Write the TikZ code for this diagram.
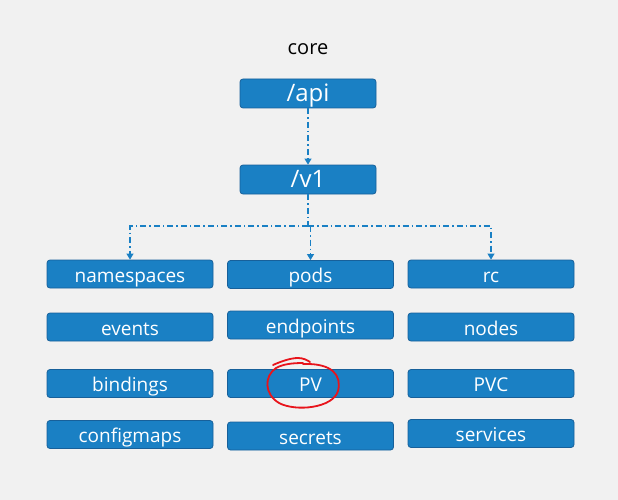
\documentclass[tikz,border=0pt]{standalone}
\usepackage{fontspec}
\setmainfont{Open Sans}
\definecolor{boxfill}{HTML}{1A80C4}
\definecolor{boxborder}{HTML}{17609A}
\definecolor{bgcol}{HTML}{F1F1F1}
\definecolor{linkcol}{HTML}{1A80C4}
\definecolor{penred}{HTML}{E8141B}
\usetikzlibrary{positioning, calc, arrows.meta}

\tikzset{
  res/.style={draw=boxborder, fill=boxfill, line width=0.8pt, rounded corners=3pt,
    minimum width=166pt, minimum height=28pt, inner sep=0pt, text=white,
    font=\fontsize{19}{22}\selectfont, text height=16pt, text depth=0pt},
  root/.style={res, minimum width=136pt, minimum height=29pt,
    font=\fontsize{24}{26}\selectfont, text height=16pt},
  link/.style={linkcol, line width=1.1pt, dash pattern=on 6pt off 3pt on 1.5pt off 3pt,
    -{Triangle[width=7pt,length=6pt]}}
}

\begin{document}
\begin{tikzpicture}[x=1pt, y=-1pt]
      % Background
      \fill[bgcol] (0,0) rectangle (618,500);
      \useasboundingbox (0,0) rectangle (618,500);

      % Title
      \node[inner sep=0pt, anchor=base] (title) at (308,55) {\fontsize{20}{22}\selectfont core};

      % Top of the tree
      \node[root] (api) at (308,93.5) {/api};
      \node[root] (v1) at (308,179.5) {/v1};

      % Resource boxes
      \node[res] (ns) at (130,274) {namespaces};
      \node[res] (pods) at (310.5,274.5) {pods};
      \node[res] (rc) at (491,274) {rc};

      \node[res] (events) at (130,327) {events};
      \node[res] (endpoints) at (310.5,325) {endpoints};
      \node[res] (nodes) at (491,327) {nodes};

      \node[res] (bindings) at (130,383.5) {bindings};
      \node[res] (pv) at (310.5,383.5) {PV};
      \node[res] (pvc) at (491,383.5) {PVC};

      \node[res] (configmaps) at (130,434.5) {configmaps};
      \node[res] (secrets) at (310.5,436) {secrets};
      \node[res] (services) at (491,433.5) {services};

      % Connectors
      \draw[link] (api) -- (v1);
      \coordinate (fork) at (308,226);
      \draw[link, -] (v1) -- (fork);
      \draw[link] (fork) -| (ns);
      \draw[link] (fork) -| (rc);
      \draw[link] (fork -| pods.north) -- (pods);

      % Hand drawn mark round PV
      \draw[penred, line width=1.8pt, line cap=round, line join=round]
        (303,364) .. controls (332,363) and (342,375) .. (338,391)
        .. controls (333,408) and (296,412) .. (279,403)
        .. controls (264,394) and (264,376) .. (276,368)
        .. controls (283,364) and (293,363) .. (303,363)
        (273,365) .. controls (282,361) and (291,358) .. (298,358)
        .. controls (303,358) and (307,360) .. (310,362);
    \end{tikzpicture}
\end{document}
